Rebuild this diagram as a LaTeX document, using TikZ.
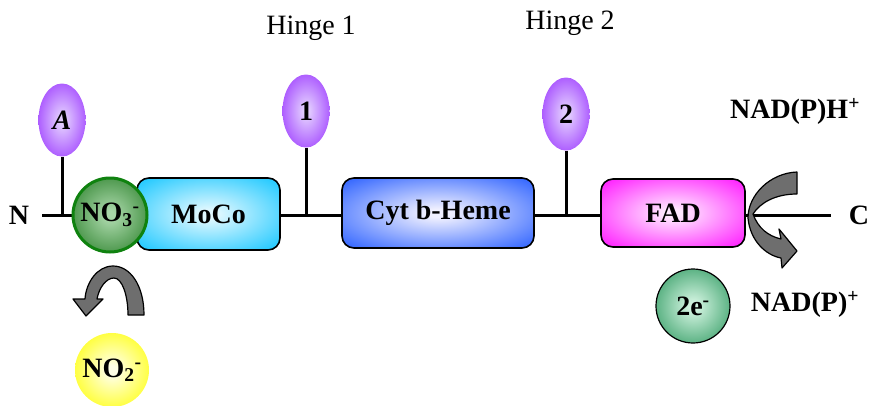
\documentclass[tikz,border=0pt]{standalone}
\usepackage{fontspec}
\setmainfont{Liberation Serif}
\usetikzlibrary{shapes.geometric}
\colorlet{glin}{white}
\colorlet{glout}{black}
\pgfdeclareradialshading[glin,glout]{glow}{\pgfpoint{0bp}{0bp}}{color(0bp)=(glin); color(3bp)=(glin); color(34bp)=(glout); color(50bp)=(glout)}
\definecolor{purpO}{HTML}{9933FF}
\definecolor{purpI}{HTML}{E2CCFF}
\definecolor{cyanO}{HTML}{1EC8FF}
\definecolor{cyanI}{HTML}{E0F8FF}
\definecolor{blueO}{HTML}{3366FF}
\definecolor{blueI}{HTML}{F0F0FF}
\definecolor{magO}{HTML}{FF1EFF}
\definecolor{magI}{HTML}{FFE8FF}
\definecolor{grnO}{HTML}{2A802A}
\definecolor{grnI}{HTML}{A8D6A8}
\definecolor{grnB}{HTML}{0F820F}
\definecolor{seaO}{HTML}{2E9960}
\definecolor{seaI}{HTML}{CFF2DE}
\definecolor{yelO}{HTML}{FFFF00}
\definecolor{yelI}{HTML}{FFFFE6}
\definecolor{arrgray}{HTML}{6E6E6E}
\begin{document}
\begin{tikzpicture}[x=1pt,y=-1pt,
  every node/.style={font=\fontsize{28}{30}\selectfont\bfseries, text=black},
  glow/.style n args={2}{/utils/exec={\colorlet{glin}{#1}\colorlet{glout}{#2}}, shade, shading=glow},
  bone/.style={line width=3pt},
  hingeball/.style={shape=ellipse, minimum width=47pt, minimum height=73pt, inner sep=0pt, glow={purpI}{purpO}},
  dombox/.style={rounded corners=12pt, draw=black, line width=1.6pt, inner sep=0pt},
  ionball/.style={circle, minimum size=74pt, inner sep=0pt},
  turnarrow/.style={fill=arrgray, draw=black, line width=1.2pt, line join=round},
  plainlbl/.style={font=\fontsize{28}{30}\selectfont}
]
\useasboundingbox (0,0) rectangle (871,405);

% backbone
\coordinate (bbL) at (42,215);
\coordinate (bbR) at (831,215);
\draw[bone] (bbL) -- (bbR);
\node (N) at (19,215) {N};
\node (C) at (859,215) {C};

% hinges
\coordinate (jA) at (62,215);
\coordinate (j1) at (306,215);
\coordinate (j2) at (566,215);
\node[hingeball] (eA) at (62,120) {\textit{A}};
\node[hingeball] (e1) at (306,111) {1};
\node[hingeball] (e2) at (566,114) {2};
\draw[bone] (eA.south) -- (jA);
\draw[bone] (e1.south) -- (j1);
\draw[bone] (e2.south) -- (j2);
\node[plainlbl] (h1) at (311,28) {Hinge 1};
\node[plainlbl] (h2) at (570,23) {Hinge 2};

% domains
\node[dombox, minimum width=143pt, minimum height=72pt, glow={cyanI}{cyanO}] (moco) at (208.5,214) {MoCo};
\node[dombox, minimum width=192pt, minimum height=70pt, glow={blueI}{blueO}] (cyt) at (438,213) {Cyt b-Heme};
\node[dombox, minimum width=144pt, minimum height=68pt, glow={magI}{magO}] (fad) at (673,213) {FAD};

% ions
\node[ionball, draw=grnB, line width=3pt, glow={grnI}{grnO}] (no3) at (110,215) {NO\textsubscript{3}\textsuperscript{-}};
\node[ionball, glow={yelI}{yelO}] (no2) at (112,370) {NO\textsubscript{2}\textsuperscript{-}};
\node[ionball, draw=black, line width=1.2pt, glow={seaI}{seaO}] (e2m) at (693,306) {2e\textsuperscript{-}};

% cofactor labels
\node (nadh) at (795,111) {NAD(P)H\textsuperscript{+}};
\node (nadp) at (805,304) {NAD(P)\textsuperscript{+}};

% curved arrow at FAD
\draw[turnarrow] (797,172) -- (797,194)
  .. controls (775,194) and (760,203) .. (753,214)
  .. controls (758,228) and (768,236) .. (781,239)
  -- (779,229) -- (797,251) -- (782,268) -- (781,258)
  .. controls (765,255) and (750,240) .. (748,218)
  .. controls (748,195) and (770,173) .. (797,172) -- cycle;

% curved arrow at NO3 -> NO2
\draw[turnarrow] (128,315) -- (144,315)
  .. controls (144,285) and (130,266) .. (113,266)
  .. controls (97,266) and (86,283) .. (85,299)
  -- (73,299) -- (86,316) -- (103,299) -- (97,299)
  .. controls (99,288) and (106,278) .. (114,278)
  .. controls (122,278) and (128,295) .. (128,315) -- cycle;
\end{tikzpicture}
\end{document}
